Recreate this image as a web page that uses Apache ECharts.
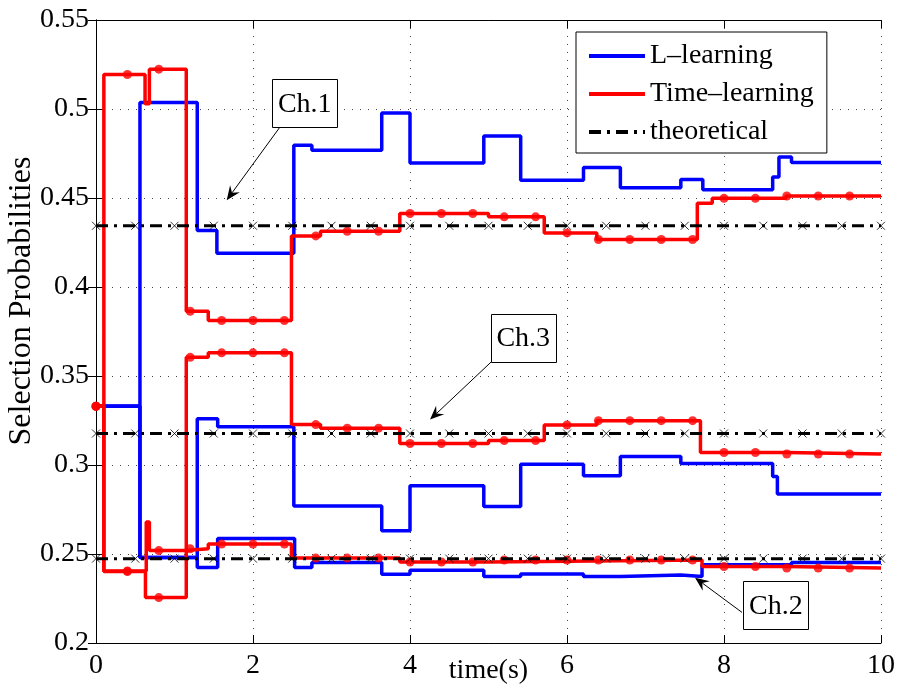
<!DOCTYPE html>
<html>
<head>
<meta charset="utf-8">
<script src="https://cdn.jsdelivr.net/npm/echarts@6/dist/echarts.min.js"></script>
<style>
  html, body { margin: 0; padding: 0; background: #fff; }
  #chart { width: 901px; height: 685px; }
</style>
</head>
<body>
<div id="chart"></div>
<script>
// Selection probabilities per channel over time: step traces [time, value],
// each value holds from its time until the next entry.
const lLearningCh1 = [[0,0.333],[0.56,0.5037],[1.29,0.4318],[1.54,0.419],[2.52,0.4797],[2.75,0.4768],[3.64,0.4978],[4.0,0.4697],[4.94,0.4849],[5.41,0.46],[6.21,0.4671],[6.68,0.4557],[7.45,0.4604],[7.73,0.4547],[8.62,0.4618],[8.7,0.4731],[8.86,0.47],[10,0.47]];
const lLearningCh3 = [[0,0.333],[0.56,0.248],[1.29,0.326],[1.55,0.3215],[2.52,0.2769],[3.64,0.263],[4.0,0.2883],[4.94,0.2767],[5.41,0.3004],[6.21,0.294],[6.68,0.3048],[7.45,0.3009],[8.62,0.2935],[8.68,0.2837],[10,0.2837]];
const lLearningCh2 = [[0,0.333],[0.56,0.248],[1.29,0.2424],[1.55,0.2587],[2.53,0.2424],[2.75,0.2452],[3.64,0.2386],[4.0,0.2409],[4.94,0.2373],[5.41,0.2388],[6.21,0.2373],[6.68,0.2382],[7.45,0.2373],[7.72,0.2439],[8.86,0.2452],[10,0.2452]];

const timeLearningCh1 = [[0,0.333],[0.1,0.5194],[0.625,0.503],[0.68,0.5224],[1.15,0.3864],[1.43,0.3812],[2.49,0.4287],[2.86,0.4313],[3.87,0.4413],[5.0,0.4394],[5.71,0.4304],[6.38,0.4267],[7.66,0.447],[7.85,0.4498],[8.79,0.4511],[10,0.4511]];
const timeLearningCh3 = [[0,0.333],[0.1,0.2401],[0.63,0.2255],[1.15,0.3605],[1.43,0.363],[2.49,0.3227],[2.86,0.3207],[3.87,0.3121],[5.0,0.3137],[5.71,0.3225],[6.38,0.3249],[7.7,0.307],[8.79,0.3062],[10,0.3062]];
const timeLearningCh2 = [[0,0.333],[0.1,0.2405],[0.64,0.268],[0.68,0.2519],[1.15,0.2529],[1.43,0.2556],[2.49,0.2477],[3.87,0.2455],[5.0,0.2466],[7.72,0.243],[8.79,0.2421],[10,0.2421]];

// Sampling instants of the Time-learning markers
const markerTimes = [0,0.4,0.8,1.2,1.6,2.0,2.4,2.8,3.2,3.6,4.0,4.4,4.8,5.2,5.6,6.0,6.4,6.8,7.2,7.6,8.0,8.4,8.8,9.2,9.6];

// Theoretical selection probabilities and the instants of their cross markers
const theoreticalValues = [0.4344, 0.3177, 0.2474];
const theoreticalTimes = [0,0.5,1,1.5,2,2.5,3,3.5,4,4.5,5,5.5,6,6.5,7,7.5,8,8.5,9,9.5,10];

const xTicks = { min: 0, max: 10, interval: 2 };
const yTicks = { min: 0.2, max: 0.55, interval: 0.05 };

const SERIF = '"Liberation Serif", "DejaVu Serif", serif';
const BLUE = '#0000ff', RED = '#ff0000';

// value of a step trace at time t
function stepValue(trace, t) {
  let v = trace[0][1];
  for (const [ti, vi] of trace) { if (ti <= t + 1e-9) v = vi; else break; }
  return v;
}

const series = [];
[lLearningCh1, lLearningCh3, lLearningCh2].forEach(tr => series.push({
  name: 'L–learning', type: 'line', step: 'end', data: tr, symbol: 'none',
  lineStyle: { color: BLUE, width: 3.5 }, itemStyle: { color: BLUE }, z: 2, animation: false
}));
[timeLearningCh1, timeLearningCh3, timeLearningCh2].forEach(tr => {
  series.push({
    name: 'Time–learning', type: 'line', step: 'end', data: tr, symbol: 'none',
    lineStyle: { color: RED, width: 3.5 }, itemStyle: { color: RED }, z: 3, animation: false
  });
  series.push({
    name: 'Time–learning markers', type: 'scatter', symbol: 'circle', symbolSize: 9,
    data: markerTimes.map(t => [t, stepValue(tr, t)]),
    itemStyle: { color: RED }, z: 4, animation: false
  });
});
theoreticalValues.forEach(v => {
  series.push({
    name: 'theoretical', type: 'line', data: [[0, v], [10, v]], symbol: 'none',
    lineStyle: { color: '#000', width: 3, type: [12, 6, 3, 6] }, itemStyle: { color: '#000' },
    z: 5, animation: false
  });
  series.push({
    name: 'theoretical markers', type: 'scatter', symbol: 'path://M0,0L10,10M10,0L0,10', symbolSize: 8,
    data: theoreticalTimes.map(t => [t, v]),
    itemStyle: { color: 'none', borderColor: '#000', borderWidth: 1 }, z: 6, animation: false
  });
});

const tickFont = { fontFamily: SERIF, fontSize: 28, color: '#000' };
const axisLineStyle = { show: true, lineStyle: { color: '#000', width: 1 } };
const tickStyle = { show: true, inside: true, length: 8, lineStyle: { color: '#000', width: 1 } };
const gridLineStyle = { show: true, lineStyle: { color: '#444', width: 1, type: [1, 7] } };

const option = {
  backgroundColor: '#fff',
  animation: false,
  grid: { left: 96, right: 20, top: 20, bottom: 42, containLabel: false, outerBoundsMode: 'none' },
  legend: {
    data: ['L–learning', 'Time–learning', 'theoretical'],
    orient: 'vertical', left: 576, top: 32,
    itemWidth: 56, itemHeight: 14, itemGap: 8,
    padding: [9, 13, 6, 11],
    backgroundColor: '#fff', borderColor: '#000', borderWidth: 1, borderRadius: 0,
    itemStyle: { opacity: 0 },
    lineStyle: { width: 4 },
    textStyle: { fontFamily: SERIF, fontSize: 28, color: '#000', lineHeight: 30 },
    selectedMode: false
  },
  xAxis: [
    {
      type: 'value', position: 'bottom', min: xTicks.min, max: xTicks.max, interval: xTicks.interval,
      axisLine: axisLineStyle, axisTick: tickStyle, splitLine: gridLineStyle,
      axisLabel: Object.assign({ margin: 9 }, tickFont),
      name: 'time(s)', nameLocation: 'middle', nameGap: 14, nameMoveOverlap: false,
      nameTextStyle: Object.assign({ verticalAlign: 'top' }, tickFont)
    },
    {
      type: 'value', position: 'top', min: xTicks.min, max: xTicks.max, interval: xTicks.interval,
      axisLine: axisLineStyle, axisTick: tickStyle, splitLine: { show: false }, axisLabel: { show: false }
    }
  ],
  yAxis: [
    {
      type: 'value', position: 'left', min: yTicks.min, max: yTicks.max, interval: yTicks.interval,
      axisLine: axisLineStyle, axisTick: tickStyle, splitLine: gridLineStyle,
      axisLabel: Object.assign({ margin: 7, formatter: v => String(parseFloat(v.toFixed(2))) }, tickFont)
    },
    {
      type: 'value', position: 'right', min: yTicks.min, max: yTicks.max, interval: yTicks.interval,
      axisLine: axisLineStyle, axisTick: tickStyle, splitLine: { show: false }, axisLabel: { show: false }
    }
  ],
  series: series
};

const chart = echarts.init(document.getElementById('chart'), null, { renderer: 'canvas' });
chart.setOption(option);

// Channel callouts: text box, arrow tail and arrow head in data coordinates
const callouts = [
  { text: 'Ch.1', box: [2.659, 0.5032], tail: [2.344, 0.4899], head: [1.665, 0.4488] },
  { text: 'Ch.3', box: [5.443, 0.3715], tail: [5.032, 0.3578], head: [4.255, 0.3255] },
  { text: 'Ch.2', box: [8.66, 0.2212], tail: [8.229, 0.2172], head: [7.631, 0.2367] }
];

const graphics = [];
// y-axis title
graphics.push({
  type: 'text', x: 22, y: 301, rotation: Math.PI / 2,
  style: { text: 'Selection Probabilities', font: '32px ' + SERIF, fill: '#000', align: 'center', verticalAlign: 'middle' },
  z: 10
});
callouts.forEach(c => {
  const b = chart.convertToPixel({ gridIndex: 0 }, c.box);
  const t = chart.convertToPixel({ gridIndex: 0 }, c.tail);
  const h = chart.convertToPixel({ gridIndex: 0 }, c.head);
  const dx = h[0] - t[0], dy = h[1] - t[1];
  const len = Math.hypot(dx, dy), ux = dx / len, uy = dy / len;
  const headLen = 14, headHalf = 6, notch = 9;
  const bx = h[0] - ux * headLen, by = h[1] - uy * headLen;
  const nx = h[0] - ux * notch, ny = h[1] - uy * notch;
  graphics.push({
    type: 'line', shape: { x1: t[0], y1: t[1], x2: nx, y2: ny },
    style: { stroke: '#000', lineWidth: 1 }, z: 20
  });
  graphics.push({
    type: 'polygon',
    shape: { points: [[h[0], h[1]], [bx - uy * headHalf, by + ux * headHalf], [nx, ny], [bx + uy * headHalf, by - ux * headHalf]] },
    style: { fill: '#000' }, z: 20
  });
  graphics.push({
    type: 'rect', shape: { x: Math.round(b[0] - 32.5) + 0.5, y: Math.round(b[1] - 24) + 0.5, width: 65, height: 48 },
    style: { fill: '#fff', stroke: '#000', lineWidth: 1 }, z: 21
  });
  graphics.push({
    type: 'text', x: b[0], y: b[1] + 1,
    style: { text: c.text, font: '28px ' + SERIF, fill: '#000', align: 'center', verticalAlign: 'middle' },
    z: 22
  });
});
chart.setOption({ graphic: graphics });
</script>
</body>
</html>
